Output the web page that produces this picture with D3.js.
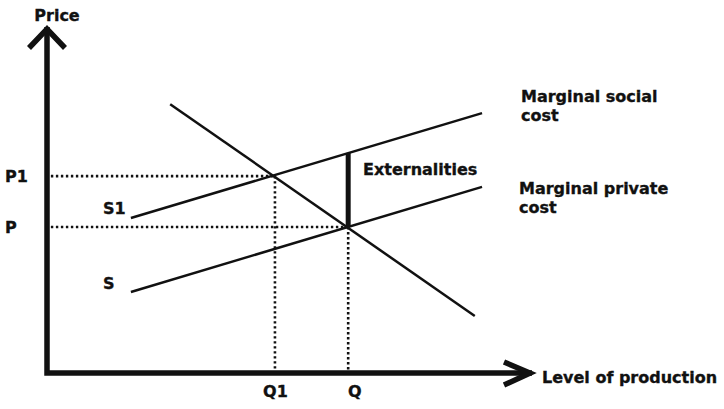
<!DOCTYPE html>
<html>
<head>
<meta charset="utf-8">
<script src="https://cdn.jsdelivr.net/npm/d3@7"></script>
<style>
  html, body { margin: 0; padding: 0; background: #fff; }
  svg text { font-family: "DejaVu Sans", sans-serif; font-weight: bold; font-size: 16px; fill: #111; stroke: #111; stroke-width: 0.35px; }
</style>
</head>
<body>
<svg id="chart" width="724" height="409"></svg>
<script>
// ---- data (arbitrary units, 0..100 on each axis) ----
const quantityTicks = [47.0, 62.1];
const quantityLabels = ["Q1", "Q"];
const priceTicks = [56.9, 42.2];
const priceLabels = ["P1", "P"];

const curveX = [17.3, 89.7];          // supply curves share x extent
const mscY = [44.8, 75.1];            // marginal social cost (S1)
const mpcY = [23.4, 53.8];            // marginal private cost (S)
const demandX = [25.4, 88.2];
const demandY = [77.7, 16.5];

const externalityX = 62.1;
const externalityY = [42.2, 63.6];

const axisTitles = ["Price", "Level of production"];
const curveLabels = ["S1", "S"];
const mscLabel = ["Marginal social", "cost"];
const mpcLabel = ["Marginal private", "cost"];
const externalityLabel = "Externalities";

// ---- scales ----
const svg = d3.select("#chart");
const x = d3.scaleLinear().domain([0, 100]).range([47, 532]);
const y = d3.scaleLinear().domain([0, 100]).range([373, 27]);
const line = d3.line().x(d => x(d[0])).y(d => y(d[1]));

// ---- dotted guide lines ----
const eq = [[quantityTicks[0], priceTicks[0]], [quantityTicks[1], priceTicks[1]]];
eq.forEach(([q, p]) => {
  svg.append("path").attr("d", line([[0.8, p], [q, p]]))
    .attr("stroke", "#111").attr("stroke-width", 2.6).attr("stroke-dasharray", "2.4,2.6").attr("fill", "none");
  svg.append("path").attr("d", line([[q, p], [q, 0.5]]))
    .attr("stroke", "#111").attr("stroke-width", 2.6).attr("stroke-dasharray", "2.4,2.6").attr("fill", "none");
});

// ---- curves ----
const curveStyle = sel => sel.attr("stroke", "#111").attr("stroke-width", 2.5).attr("fill", "none");
svg.append("path").attr("d", line(curveX.map((v, i) => [v, mscY[i]]))).call(curveStyle);
svg.append("path").attr("d", line(curveX.map((v, i) => [v, mpcY[i]]))).call(curveStyle);
svg.append("path").attr("d", line(demandX.map((v, i) => [v, demandY[i]]))).call(curveStyle);

// ---- externality bar ----
svg.append("path").attr("d", line([[externalityX, externalityY[0]], [externalityX, externalityY[1]]]))
  .attr("stroke", "#111").attr("stroke-width", 5).attr("fill", "none");

// ---- axes ----
const axisG = svg.append("g");
axisG.append("path")
  .attr("d", `M${x(0)},${y(100)} L${x(0)},${y(0)} L${x(100)},${y(0)}`)
  .attr("stroke", "#111").attr("stroke-width", 5.5).attr("fill", "none").attr("stroke-linejoin", "miter");
// arrowheads
axisG.append("path")
  .attr("d", `M${x(0) - 18},${y(100) + 21} L${x(0)},${y(100) + 2} L${x(0) + 18},${y(100) + 21}`)
  .attr("stroke", "#111").attr("stroke-width", 5.5).attr("fill", "none").attr("stroke-linejoin", "miter");
axisG.append("path")
  .attr("d", `M${x(100) - 28},${y(0) - 11} L${x(100) - 2},${y(0)} L${x(100) - 28},${y(0) + 12}`)
  .attr("stroke", "#111").attr("stroke-width", 5.5).attr("fill", "none").attr("stroke-linejoin", "miter");

// tick labels via d3 axes
const yAxis = d3.axisLeft(y).tickValues(priceTicks).tickFormat((d, i) => priceLabels[i]).tickSize(0).tickPadding(0);
const yG = svg.append("g").attr("transform", `translate(${x(0)},0)`).call(yAxis);
yG.select(".domain").remove();
yG.selectAll("text").attr("text-anchor", "start").attr("x", -42).attr("dy", "0.36em")
  .style("font-family", "DejaVu Sans").style("font-size", "16px").style("font-weight", "bold").attr("fill", "#111");

const xAxis = d3.axisBottom(x).tickValues(quantityTicks).tickFormat((d, i) => quantityLabels[i]).tickSize(0).tickPadding(0);
const xG = svg.append("g").attr("transform", `translate(0,${y(0)})`).call(xAxis);
xG.select(".domain").remove();
xG.selectAll("text").attr("y", 24).attr("dy", 0)
  .style("font-family", "DejaVu Sans").style("font-size", "16px").style("font-weight", "bold").attr("fill", "#111");
xG.selectAll(".tick").filter((d, i) => i === 1).select("text").attr("dx", 6);

// ---- text labels ----
svg.append("text").attr("x", x(0) + 10).attr("y", 21).attr("text-anchor", "middle").text(axisTitles[0]);
svg.append("text").attr("x", 542).attr("y", 383).text(axisTitles[1]);
svg.append("text").attr("x", 103).attr("y", 214).text(curveLabels[0]);
svg.append("text").attr("x", 103).attr("y", 289).text(curveLabels[1]);
svg.append("text").attr("x", 363).attr("y", 175).text(externalityLabel);
mscLabel.forEach((t, i) => svg.append("text").attr("x", 521).attr("y", 102 + i * 19).text(t));
mpcLabel.forEach((t, i) => svg.append("text").attr("x", 519).attr("y", 194 + i * 19).text(t));
</script>
</body>
</html>
